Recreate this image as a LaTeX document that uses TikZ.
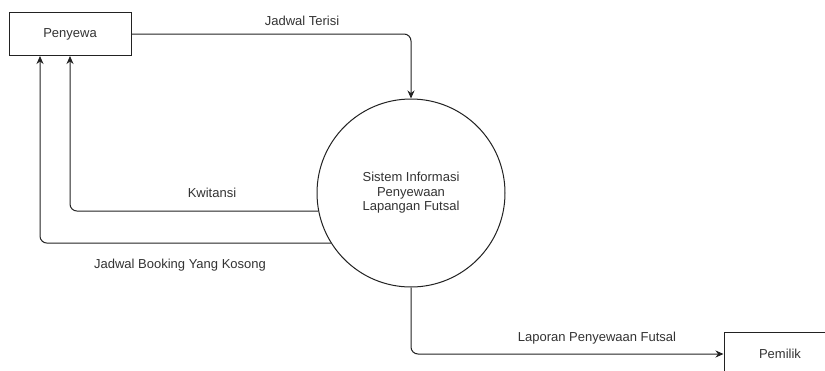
\documentclass[tikz,border=0pt]{standalone}
\usepackage{fontspec}
\setmainfont{Liberation Sans}
\usepackage{xcolor}
\usetikzlibrary{calc,arrows.meta}
\definecolor{bg}{HTML}{FFFFFF}
\definecolor{ink}{HTML}{222222}
\definecolor{text}{HTML}{333333}
\tikzset{
  entity/.style={draw=ink, line width=1pt, minimum width=122pt, minimum height=43pt, text=text, font=\fontsize{13}{15}\selectfont},
  proc/.style={draw=ink, circle, line width=1pt, minimum size=188pt, align=center, text=text, font=\fontsize{13}{14.5}\selectfont},
  flow/.style={draw=ink, line width=1pt, rounded corners=7pt, -{Stealth[length=8pt,width=7pt]}},
  lab/.style={text=text, font=\fontsize{13}{15}\selectfont},
}
\begin{document}
\begin{tikzpicture}[x=1pt,y=-1pt]
  \useasboundingbox[fill=bg] (0,0) rectangle (825,370);
  \clip (0,0) rectangle (825,370);
  % external entities and process
  \node[entity] (penyewa) at (70,34) {Penyewa};
  \node[proc] (sistem) at (411,193) {Sistem Informasi\\Penyewaan\\Lapangan Futsal};
  \node[entity, minimum width=112pt, minimum height=44pt] (pemilik) at (780,354) {Pemilik};
  \coordinate (kw) at ($(penyewa.south)$);
  \coordinate (bk) at ($(penyewa.south)+(-30,0)$);
  % data flows
  \draw[flow] (penyewa.east) -| (sistem.north);
  \draw[flow] (sistem.191) -| (kw);
  \draw[flow] (sistem.212) -| (bk);
  \draw[flow] (sistem.south) |- (pemilik.west);
  % flow labels
  \node[lab] (lterisi) at (302,21) {Jadwal Terisi};
  \node[lab] (lkwit) at (212,193) {Kwitansi};
  \node[lab] (lbook) at (180,265) {Jadwal Booking Yang Kosong};
  \node[lab] (llap) at (597,338) {Laporan Penyewaan Futsal};
\end{tikzpicture}
\end{document}
